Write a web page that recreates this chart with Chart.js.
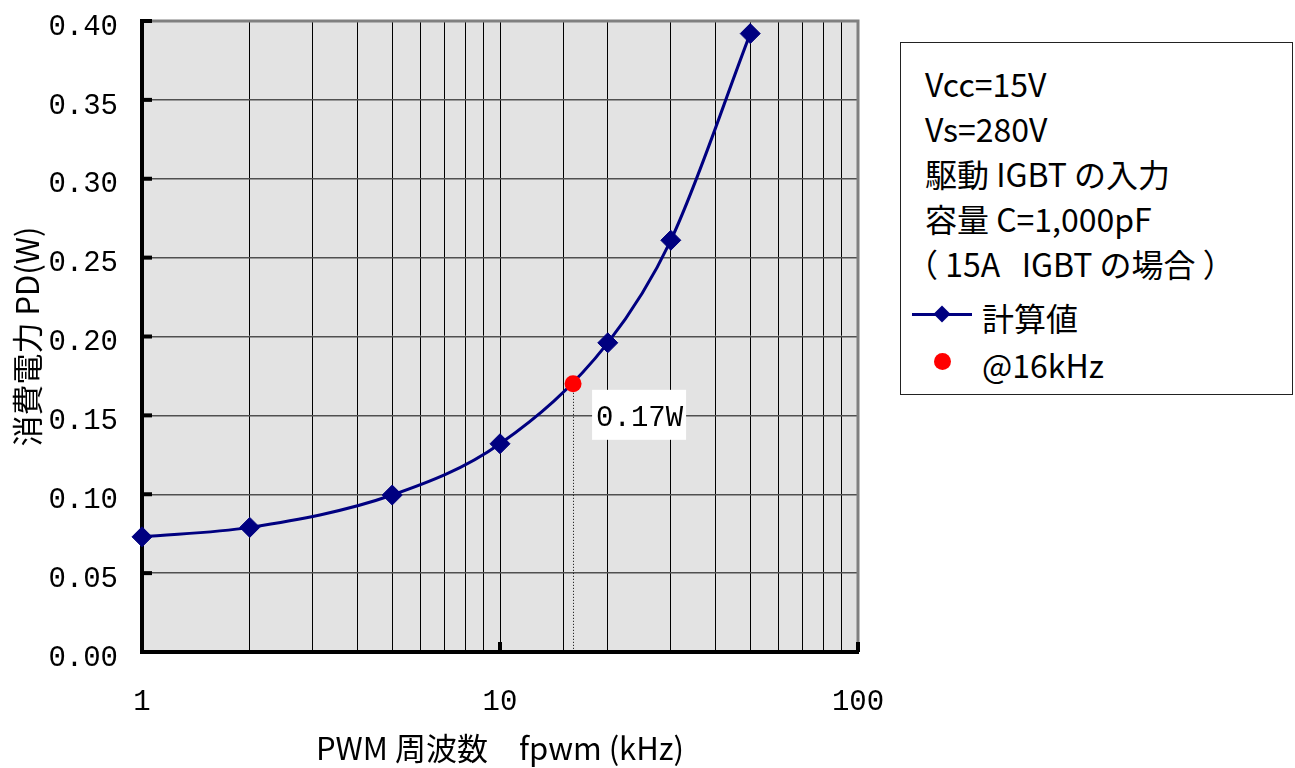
<!DOCTYPE html>
<html>
<head>
<meta charset="utf-8">
<script src="https://cdn.jsdelivr.net/npm/chart.js@4.4.1/dist/chart.umd.min.js"></script>
<style>
  html, body { margin: 0; padding: 0; background: #fff; }
  #wrap { position: relative; width: 1295px; height: 768px; overflow: hidden; }
  #c { position: absolute; left: 0; top: 0; }
  #legend { position: absolute; left: 900px; top: 42px; width: 391px; height: 351px;
            border: 1.5px solid #222; background: #fff; box-sizing: content-box; }
  .ln { position: absolute; white-space: pre; font-family: "Noto Sans CJK JP", "Noto Sans", sans-serif;
        font-size: 32px; line-height: 38px; color: #000; }
  .sample-line { position: absolute; height: 3px; background: #000080; }
  .sample-dia { position: absolute; width: 12px; height: 12px; background: #000080; transform: rotate(45deg); }
  .sample-dot { position: absolute; width: 17px; height: 17px; border-radius: 50%; background: #ff0000; }
</style>
</head>
<body>
<div id="wrap">
  <canvas id="c" width="1295" height="768"></canvas>
  <div id="legend"></div>
</div>
<script>
// ---- data ----
const freqKHz  = [1, 2, 5, 10, 20, 30, 50];
const powerW   = [0.073, 0.079, 0.0995, 0.132, 0.196, 0.261, 0.392];
const markFreq  = [16];
const markPower = [0.170];
const xLabelTicks = [1, 10, 100];
const yMin = 0, yMax = 0.40, yStep = 0.05;
const seriesName = '計算値';
const markName = '@16kHz';
const noteLines = ['Vcc=15V', 'Vs=280V', '駆動 IGBT の入力', '容量 C=1,000pF', '（ 15A   IGBT の場合 ）'];
const xTitle = 'PWM 周波数　fpwm (kHz)';
const yTitle = '消費電力 PD(W)';

// ---- legend / note box (HTML text) ----
const legend = document.getElementById('legend');
const lineCenters = [82, 127, 172, 217, 262];
noteLines.forEach((t, i) => {
  const d = document.createElement('div');
  d.className = 'ln';
  d.textContent = t;
  d.style.left = (i === 4 ? 5 : 24) + 'px';
  d.style.top = (lineCenters[i] - 42 - 19) + 'px';
  legend.appendChild(d);
});
(function () {
  const L = document.createElement('div'); L.className = 'sample-line';
  L.style.left = '11px'; L.style.width = '60px'; L.style.top = (313 - 42 - 1.5) + 'px';
  legend.appendChild(L);
  const D = document.createElement('div'); D.className = 'sample-dia';
  D.style.left = (41 - 6) + 'px'; D.style.top = (313 - 42 - 6) + 'px';
  legend.appendChild(D);
  const t1 = document.createElement('div'); t1.className = 'ln'; t1.textContent = seriesName;
  t1.style.left = '81px'; t1.style.top = (316 - 42 - 19) + 'px';
  legend.appendChild(t1);
  const R = document.createElement('div'); R.className = 'sample-dot';
  R.style.left = (41 - 8.5) + 'px'; R.style.top = (360 - 42 - 8.5) + 'px';
  legend.appendChild(R);
  const t2 = document.createElement('div'); t2.className = 'ln'; t2.textContent = markName;
  t2.style.left = '81px'; t2.style.top = (363 - 42 - 19) + 'px';
  legend.appendChild(t2);
})();

// ---- plugin: plot background, frame, inner ticks, marker annotation ----
const framePlugin = {
  id: 'frame',
  beforeDraw(chart) {
    const {ctx, chartArea: a} = chart;
    ctx.save();
    ctx.fillStyle = '#e3e3e3';
    ctx.fillRect(a.left, a.top, a.right - a.left, a.bottom - a.top);
    ctx.restore();
  },
  beforeDatasetsDraw(chart) {
    const {ctx, chartArea: a, scales: {x, y}} = chart;
    const px = x.getPixelForValue(markFreq[0]);
    const py = y.getPixelForValue(markPower[0]);
    ctx.save();
    ctx.strokeStyle = '#000';
    ctx.lineWidth = 1;
    ctx.setLineDash([1, 2]);
    ctx.beginPath();
    ctx.moveTo(Math.round(px) + 0.5, py);
    ctx.lineTo(Math.round(px) + 0.5, a.bottom);
    ctx.stroke();
    ctx.restore();
  },
  afterDatasetsDraw(chart) {
    const {ctx, chartArea: a, scales: {x, y}} = chart;
    ctx.save();
    ctx.strokeStyle = '#808080';
    ctx.lineWidth = 3;
    ctx.beginPath();
    ctx.moveTo(a.left, a.top);
    ctx.lineTo(a.right, a.top);
    ctx.lineTo(a.right, a.bottom);
    ctx.stroke();
    ctx.fillStyle = '#000';
    y.ticks.forEach(t => {
      const yy = y.getPixelForValue(t.value);
      ctx.fillRect(a.left, yy - 2, 10, 4);
    });
    xLabelTicks.forEach(v => {
      const xx = x.getPixelForValue(v);
      ctx.fillRect(xx - 2, a.bottom - 10, 4, 10);
    });
    const px = x.getPixelForValue(markFreq[0]);
    const py = y.getPixelForValue(markPower[0]);
    ctx.fillStyle = '#fff';
    ctx.fillRect(px + 19, py + 6, 94, 50);
    ctx.fillStyle = '#000';
    ctx.font = '29px "Liberation Mono", "DejaVu Sans Mono", monospace';
    ctx.textBaseline = 'middle';
    ctx.textAlign = 'left';
    ctx.fillText(markPower[0].toFixed(2) + 'W', px + 23, py + 35);
    ctx.restore();
  }
};

const tickFont = {family: '"Liberation Mono", "DejaVu Sans Mono", monospace', size: 29};
const titleFont = {family: '"Noto Sans CJK JP", "Noto Sans", sans-serif', size: 31};

new Chart(document.getElementById('c'), {
  type: 'scatter',
  data: {
    datasets: [
      {
        label: seriesName,
        data: freqKHz.map((f, i) => ({x: f, y: powerW[i]})),
        showLine: true,
        borderColor: '#000080',
        backgroundColor: '#000080',
        borderWidth: 3,
        pointStyle: 'rectRot',
        pointRadius: 10,
        pointBorderWidth: 1,
        cubicInterpolationMode: 'monotone',
        clip: false,
        order: 1
      },
      {
        label: markName,
        data: markFreq.map((f, i) => ({x: f, y: markPower[i]})),
        showLine: false,
        borderColor: '#ff0000',
        backgroundColor: '#ff0000',
        pointStyle: 'circle',
        pointRadius: 8.5,
        pointBorderWidth: 0,
        clip: false,
        order: 0
      }
    ]
  },
  options: {
    responsive: false,
    animation: false,
    devicePixelRatio: 1,
    layout: {padding: {left: 0, top: 21, right: 437, bottom: 0}},
    plugins: {legend: {display: false}, tooltip: {enabled: false}},
    scales: {
      x: {
        type: 'logarithmic',
        position: 'bottom',
        min: 1,
        max: 100,
        grid: {color: '#000', lineWidth: 1, drawTicks: true, tickLength: 33, tickColor: 'rgba(0,0,0,0)'},
        border: {color: '#000', width: 4},
        ticks: {
          autoSkip: false,
          maxRotation: 0,
          font: tickFont,
          color: '#000',
          padding: 0,
          callback: (v) => xLabelTicks.includes(v) ? String(v) : ''
        },
        title: {display: true, text: xTitle, font: titleFont, color: '#000', padding: {top: 0, bottom: 1}},
        afterFit: (s) => { s.height = 116; }
      },
      y: {
        type: 'linear',
        min: yMin,
        max: yMax,
        grid: {color: '#505050', lineWidth: 1.5, drawTicks: true, tickLength: 24, tickColor: 'rgba(0,0,0,0)'},
        border: {color: '#000', width: 4},
        ticks: {
          stepSize: yStep,
          font: tickFont,
          color: '#000',
          padding: 0,
          labelOffset: 6,
          callback: (v) => Number(v).toFixed(2)
        },
        title: {display: true, text: yTitle, font: titleFont, color: '#000', padding: {top: 9, bottom: 0}},
        afterFit: (s) => { s.width = 142; }
      }
    }
  },
  plugins: [framePlugin]
});
</script>
</body>
</html>
